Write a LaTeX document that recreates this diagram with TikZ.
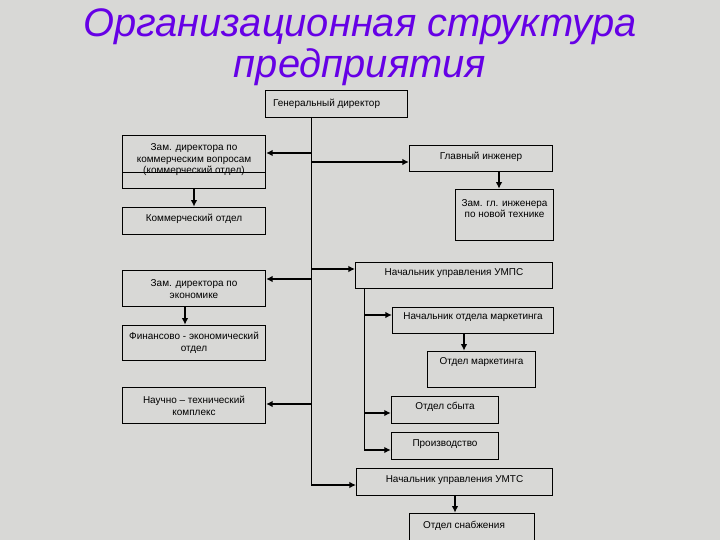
\documentclass[tikz,border=0pt]{standalone}
\usepackage{fontspec}
\setmainfont{Liberation Sans}
\usetikzlibrary{arrows.meta,calc}
\definecolor{bgc}{RGB}{216,216,214}
\definecolor{titlec}{RGB}{102,0,230}
\tikzset{
  box/.style={draw=black, line width=0.8bp, inner sep=0pt, fill=none},
  txt/.style={font=\fontsize{10}{11.6}\selectfont, align=center, inner sep=0pt, text=black},
  ttl/.style={font=\fontsize{40}{44}\selectfont\itshape, text=titlec, inner sep=0pt},
  thin/.style={line width=0.9bp},
  arr/.style={line width=1.8bp, -{Latex[length=6.5bp,width=6.5bp]}},
}
\newcommand{\bx}[5]{\node[box, minimum width=#4-#2, minimum height=#5-#3] (#1) at ({(#2+#4)/2},{(#3+#5)/2}) {};}
\begin{document}
\begin{tikzpicture}[x=1bp,y=-1bp]
\fill[bgc] (0,0) rectangle (720,540);
\useasboundingbox (0,0) rectangle (720,540);
\clip (0,0) rectangle (720,540);
% title
\node[ttl, anchor=base] (t1) at (360,37) {Организационная структура};
\node[ttl, anchor=base] (t2) at (360,78) {предприятия};
% boxes
\bx{gd}{265}{90}{408}{117}
\bx{zk}{122}{135}{266}{189}
\bx{ko}{122}{207}{266}{234}
\bx{gi}{409}{145}{553}{171}
\bx{zgi}{455}{189}{554}{240}
\bx{ze}{122}{270}{266}{306}
\bx{fe}{122}{325}{266}{360}
\bx{umps}{355}{262}{553}{288}
\bx{nom}{392}{307}{554}{333}
\bx{om}{427}{351}{536}{387}
\bx{nt}{122}{387}{266}{423}
\bx{os}{391}{396}{499}{423}
\bx{pr}{391}{432}{499}{459}
\bx{umts}{356}{468}{553}{495}
\bx{sn}{409}{513}{535}{548}
% inner line of zk
\coordinate (zkl) at (122,172);
\draw[line width=0.8bp] (zkl) -- (zkl -| zk.east);
% texts
\node[txt, anchor=west] (gdt) at (273,104) {Генеральный директор};
\node[txt] (zkt) at (194,160) {Зам. директора по\\коммерческим вопросам\\(коммерческий отдел)};
\node[txt] (kot) at (194,219) {Коммерческий отдел};
\node[txt] (git) at (481,157) {Главный инженер};
\node[txt] (zgit) at (504.5,208.5) {Зам. гл. инженера\\по новой технике};
\node[txt] (zet) at (194,289) {Зам. директора по\\экономике};
\node[txt] (fet) at (194,343) {Финансово - экономический\\отдел};
\node[txt] (umpst) at (454,273) {Начальник управления УМПС};
\node[txt] (nomt) at (473,317) {Начальник отдела маркетинга};
\node[txt] (omt) at (481.5,362) {Отдел маркетинга};
\node[txt] (ntt) at (194,406) {Научно – технический\\комплекс};
\node[txt] (ost) at (445,407) {Отдел сбыта};
\node[txt] (prt) at (445,444) {Производство};
\node[txt] (umtst) at (454.5,480) {Начальник управления УМТС};
\node[txt] (snt) at (464,526) {Отдел снабжения};
% main trunk
\coordinate (tr0) at (311,117);
\coordinate (trE) at (311,485);
\draw[thin] (tr0) -- (trE);
\coordinate (a1) at (311,153);
\coordinate (a2) at (311,162);
\coordinate (a3) at (311,269);
\coordinate (a4) at (311,279);
\coordinate (a5) at (311,404);
\draw[arr] (a1) -- (a1 -| zk.east);
\draw[arr] (a2) -- (a2 -| gi.west);
\draw[arr] (a3) -- (a3 -| umps.west);
\draw[arr] (a4) -- (a4 -| ze.east);
\draw[arr] (a5) -- (a5 -| nt.east);
\draw[arr] (trE) -- (trE -| umts.west);
% vertical arrows
\coordinate (v1) at (194,189);
\draw[arr] (v1) -- (v1 |- ko.north);
\coordinate (v2) at (499,171);
\draw[arr] (v2) -- (v2 |- zgi.north);
\coordinate (v3) at (185,306);
\draw[arr] (v3) -- (v3 |- fe.north);
\coordinate (v4) at (464,333);
\draw[arr] (v4) -- (v4 |- om.north);
\coordinate (v5) at (455,495);
\draw[arr] (v5) -- (v5 |- sn.north);
% secondary trunk
\coordinate (s0) at (364,288);
\coordinate (sE) at (364,450);
\draw[thin] (s0) -- (sE);
\coordinate (b1) at (364,315);
\coordinate (b2) at (364,413);
\draw[arr] (b1) -- (b1 -| nom.west);
\draw[arr] (b2) -- (b2 -| os.west);
\draw[arr] (sE) -- (sE -| pr.west);
\end{tikzpicture}
\end{document}
